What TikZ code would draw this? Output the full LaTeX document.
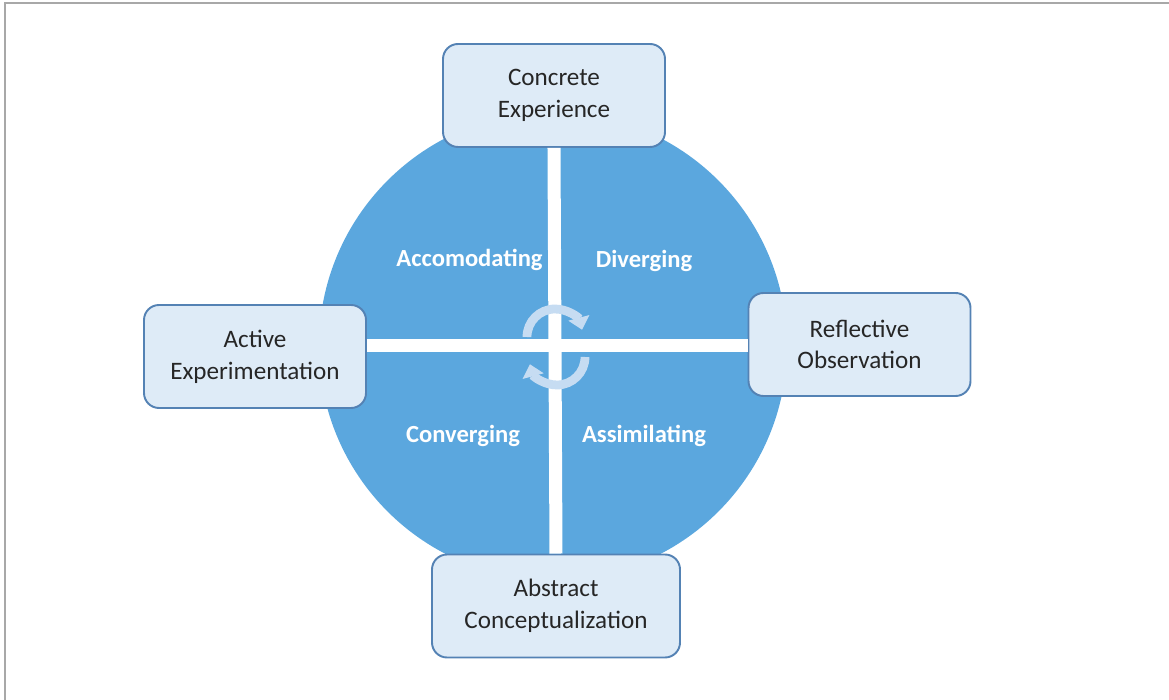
\documentclass[tikz,border=0pt]{standalone}
\usepackage{fontspec}
\setmainfont{Carlito}
\usetikzlibrary{arrows.meta}

\definecolor{wheelblue}{RGB}{91,167,222}
\definecolor{boxfill}{RGB}{222,235,247}
\definecolor{boxline}{RGB}{84,130,180}
\definecolor{turnblue}{RGB}{198,220,242}
\definecolor{framegray}{RGB}{168,168,168}

\tikzset{
  stage/.style={draw=boxline, line width=1.1pt, fill=boxfill, rounded corners=0.3cm,
    minimum width=4.44cm, minimum height=2.06cm, inner sep=0pt, align=center,
    text=black!85, font=\fontsize{14.3}{18.1}\selectfont},
  mode/.style={text=white, inner sep=0pt, font=\fontsize{14}{16}\selectfont\bfseries},
  divider/.style={white, line width=7.4pt},
  turn/.style={turnblue, line width=5pt, -{Triangle[width=12pt,length=7pt]}}
}

\begin{document}
\begin{tikzpicture}[scale=0.2]
            \useasboundingbox (0,0) rectangle (116.9,-70);
            \draw [framegray, line width=1.6pt] (0.5,-70) -- (0.5,-0.3) -- (116.9,-0.3);
            \coordinate (hub) at (55.3,-34.6);
            \fill [wheelblue] (hub) circle (23.4);
            \node [stage] (ce) at (55.4,-9.55) {Concrete\\Experience};
            \node [stage] (ro) at (85.95,-34.45) {Reflective\\Observation};
            \node [stage, minimum width=4.96cm] (ac) at (55.6,-60.6) {Abstract\\Conceptualization};
            \node [stage] (ae) at (25.5,-35.65) {Active\\Experimentation};
            \draw [divider] (ce.south) -- (ac.north);
            \draw [divider] (ae.east |- hub) -- (ro.west |- hub);
            \node [mode] (acc) at (46.95,-26.0) {Accomodating};
            \node [mode] (div) at (64.4,-26.1) {Diverging};
            \node [mode] (con) at (46.3,-43.6) {Converging};
            \node [mode] (asm) at (64.4,-43.6) {Assimilating};
            \draw [turn] (52.7,-33.7) arc [start angle=180, end angle=15, radius=2.8];
            \draw [turn] (58.5,-35.7) arc [start angle=0, end angle=-165, radius=2.8];
\end{tikzpicture}
\end{document}
